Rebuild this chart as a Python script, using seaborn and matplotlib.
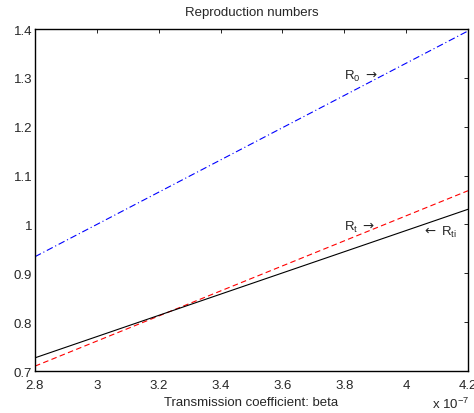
import pandas as pd
import numpy as np
import matplotlib
matplotlib.use("Agg")
import matplotlib.pyplot as plt
import seaborn as sns

# Werte (beta in Einheiten von 1e-7)
beta = [2.8, 4.2]
r0 = [0.934, 1.396]
rt = [0.710, 1.069]
rti = [0.727, 1.031]

df = pd.DataFrame({
    "beta": beta * 3,
    "value": r0 + rt + rti,
    "series": ["R0"] * 2 + ["Rt"] * 2 + ["Rti"] * 2,
})

sns.set_theme(style="white")
plt.rcParams["font.family"] = ["Liberation Sans", "DejaVu Sans"]
plt.rcParams["mathtext.fontset"] = "custom"
plt.rcParams["mathtext.rm"] = "Liberation Sans"
plt.rcParams["mathtext.it"] = "Liberation Sans"
plt.rcParams["mathtext.sf"] = "DejaVu Sans"  # nur fuer die Pfeile
plt.rcParams["xtick.direction"] = "in"
plt.rcParams["ytick.direction"] = "in"

fs = 9.5
fig = plt.figure(figsize=(4.74, 4.14), dpi=100)
ax = fig.add_axes([0.0738, 0.1014, 0.9135, 0.8261])

palette = {"R0": "blue", "Rt": "red", "Rti": "black"}
sns.lineplot(data=df, x="beta", y="value", hue="series", style="series",
             palette=palette,
             dashes={"R0": (6, 2.5, 1, 2.5), "Rt": (5, 3), "Rti": ""},
             linewidth=0.8, legend=False, ax=ax)

ax.set_xlim(2.8, 4.2)
ax.set_ylim(0.7, 1.4)
ax.set_xticks(np.arange(2.8, 4.21, 0.2))
ax.set_xticklabels(["2.8", "3", "3.2", "3.4", "3.6", "3.8", "4", "4.2"])
ax.set_yticks(np.arange(0.7, 1.41, 0.1))
ax.set_yticklabels(["0.7", "0.8", "0.9", "1", "1.1", "1.2", "1.3", "1.4"])
ax.tick_params(axis="both", labelsize=fs, length=3, width=0.6, color="black",
               top=True, right=True)
ax.tick_params(axis="y", pad=2)
ax.tick_params(axis="x", pad=6)
for s in ax.spines.values():
    s.set_color("black")
    s.set_linewidth(1.0)

ax.set_title("Reproduction numbers", fontsize=fs, pad=10)
ax.set_xlabel("Transmission coefficient: beta", fontsize=fs, labelpad=3)
ax.set_ylabel("")

# Beschriftungen der Kurven
ax.text(3.8, 1.304, r"R$_{0}$ $\mathsf{\rightarrow}$", fontsize=fs, va="center", ha="left")
ax.text(3.8, 0.995, r"R$_{t}$ $\mathsf{\rightarrow}$", fontsize=fs, va="center", ha="left")
ax.text(4.05, 0.985, r"$\mathsf{\leftarrow}$ R$_{ti}$", fontsize=fs, va="center", ha="left")

fig.text(0.912, 0.004, "x 10$^{-7}$", fontsize=fs, ha="left", va="bottom")

fig.savefig("out.png", dpi=100)
plt.close(fig)
